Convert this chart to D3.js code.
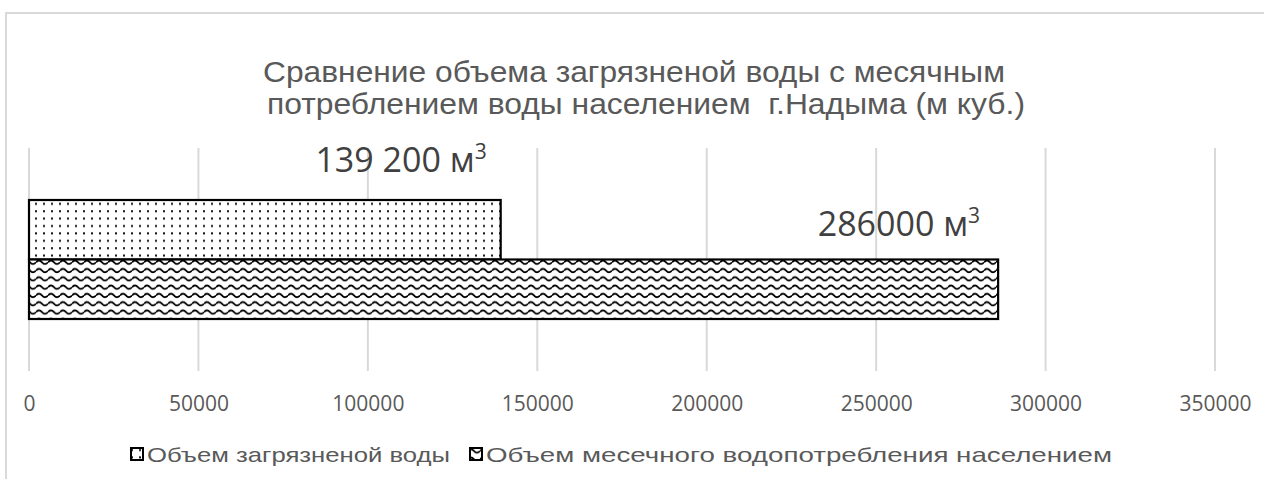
<!DOCTYPE html>
<html>
<head>
<meta charset="utf-8">
<script src="https://cdn.jsdelivr.net/npm/d3@7"></script>
<style>
  body { margin: 0; background: #fff; }
  svg { display: block; }
</style>
</head>
<body>
<div id="chart"></div>
<script>
// data
const titleLines = ["Сравнение объема загрязненой воды с месячным", "потреблением воды населением  г.Надыма (м куб.)"];
const categories = ["Надым"];
const seriesNames = ["Объем загрязненой воды", "Объем месечного водопотребления населением"];
const seriesValues = [139200, 286000];
const labelTexts = ["139 200 м", "286000 м"];
const tickValues = [0, 50000, 100000, 150000, 200000, 250000, 300000, 350000];

const drawChart = () => {
  const width = 1264;
  const height = 479;

  const svg = d3.select("#chart")
    .append("svg")
    .attr("width", width)
    .attr("height", height)
    .style("background-color", "#fff");

  const defs = svg.append("defs");

  // dotted fill
  const dots = defs.append("pattern")
    .attr("id", "dots")
    .attr("patternUnits", "userSpaceOnUse")
    .attr("width", 8)
    .attr("height", 7.4);
  dots.append("rect").attr("width", 8).attr("height", 7.4).attr("fill", "#fff");
  dots.append("rect").attr("x", 3).attr("y", 3).attr("width", 2).attr("height", 2).attr("fill", "#111");

  // wavy fill
  const waves = defs.append("pattern")
    .attr("id", "waves")
    .attr("patternUnits", "userSpaceOnUse")
    .attr("width", 12)
    .attr("height", 8.3);
  waves.append("rect").attr("width", 12).attr("height", 8.3).attr("fill", "#fff");
  waves.append("path")
    .attr("d", "M0,5 Q3,1.5 6,5 T12,5")
    .attr("fill", "none")
    .attr("stroke", "#000")
    .attr("stroke-width", 1.8);

  const fills = ["url(#dots)", "url(#waves)"];

  // chart border (only top and left visible)
  svg.append("path")
    .attr("d", `M6,${height} V13 H${width}`)
    .attr("fill", "none")
    .attr("stroke", "#d9d9d9")
    .attr("stroke-width", 2);

  // title, stretched like the source picture
  const titleX = [263, 267];
  const titleW = [742, 758];
  svg.append("g")
    .selectAll("text")
    .data(titleLines)
    .enter()
    .append("text")
    .attr("x", (d, i) => titleX[i])
    .attr("y", (d, i) => 82 + i * 32)
    .attr("textLength", (d, i) => titleW[i])
    .attr("lengthAdjust", "spacingAndGlyphs")
    .attr("xml:space", "preserve")
    .style("white-space", "pre")
    .style("font-family", "'Liberation Sans', Arial, sans-serif")
    .style("font-size", "29px")
    .attr("fill", "#595959")
    .text(d => d);

  const x = d3.scaleLinear().domain([0, 350000]).range([29, 1215]);
  const y0 = d3.scaleBand().domain(categories).range([148, 371]).paddingOuter(0.437);
  const y1 = d3.scaleBand().domain(seriesNames).range([0, y0.bandwidth()]);

  // gridlines
  svg.append("g")
    .selectAll("line")
    .data(tickValues)
    .enter()
    .append("line")
    .attr("x1", d => x(d))
    .attr("x2", d => x(d))
    .attr("y1", 148)
    .attr("y2", 371)
    .attr("stroke", "#d9d9d9")
    .attr("stroke-width", 2);

  // axis labels
  const xAxis = svg.append("g")
    .attr("transform", "translate(0,396)")
    .call(d3.axisBottom(x).tickValues(tickValues).tickFormat(d3.format("d")).tickSize(0));
  xAxis.select(".domain").remove();
  xAxis.selectAll("text")
    .attr("dy", "0.71em")
    .attr("y", 0)
    .attr("fill", "#595959")
    .style("font-family", "'Open Sans', sans-serif")
    .style("font-size", "21px");

  // bars
  const cat = categories[0];
  svg.append("g")
    .selectAll("rect")
    .data(seriesValues)
    .enter()
    .append("rect")
    .attr("x", x(0))
    .attr("y", (d, i) => y0(cat) + y1(seriesNames[i]))
    .attr("width", d => x(d) - x(0))
    .attr("height", y1.bandwidth())
    .attr("fill", (d, i) => fills[i])
    .attr("stroke", "#000")
    .attr("stroke-width", 2.2);

  // data labels (manually placed above the bars, like in the source)
  const labelOffsets = [[-14, -28], [-18, -24]];
  const labels = svg.append("g")
    .selectAll("text")
    .data(seriesValues)
    .enter()
    .append("text")
    .attr("x", (d, i) => x(d) + labelOffsets[i][0])
    .attr("y", (d, i) => y0(cat) + y1(seriesNames[i]) + labelOffsets[i][1])
    .attr("text-anchor", "end")
    .attr("fill", "#404040")
    .style("font-family", "'Open Sans', sans-serif")
    .style("font-size", "34px");
  labels.append("tspan").text((d, i) => labelTexts[i]);
  labels.append("tspan")
    .attr("dy", -13)
    .style("font-size", "21px")
    .text("3");

  // legend
  const legendX = [131, 470];
  const legendW = [303, 626];
  const legend = svg.append("g").attr("transform", "translate(0,446)");
  seriesNames.forEach((name, i) => {
    legend.append("rect")
      .attr("x", legendX[i])
      .attr("y", 2)
      .attr("width", 12)
      .attr("height", 12)
      .attr("fill", fills[i])
      .attr("stroke", "#000")
      .attr("stroke-width", 2);
    legend.append("text")
      .attr("x", legendX[i] + 16)
      .attr("y", 16)
      .attr("textLength", legendW[i])
      .attr("lengthAdjust", "spacingAndGlyphs")
      .attr("fill", "#595959")
      .style("font-family", "'Liberation Sans', Arial, sans-serif")
      .style("font-size", "21px")
      .text(name);
  });
};

drawChart();
</script>
</body>
</html>
